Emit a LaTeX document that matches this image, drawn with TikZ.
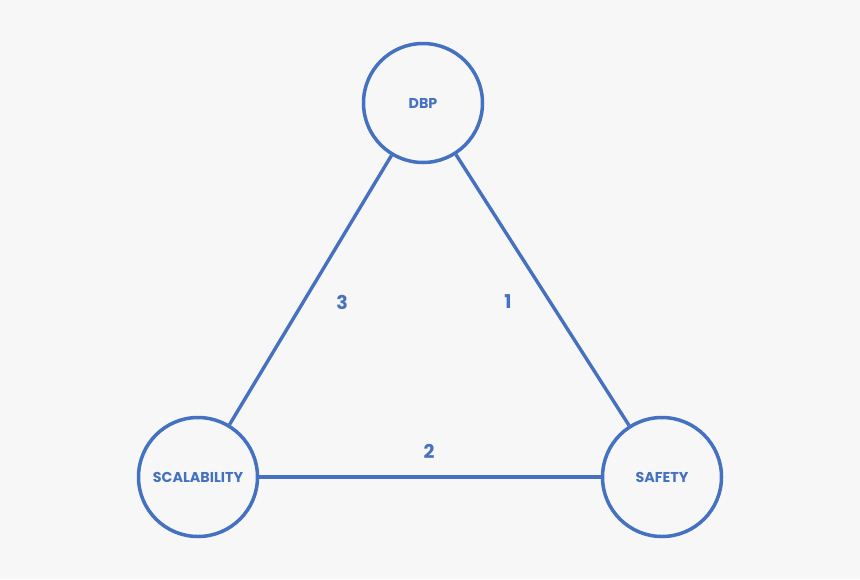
\documentclass[tikz,border=0pt]{standalone}
\usepackage{fontspec}
\setmainfont{Poppins}
\definecolor{bg}{HTML}{F7F7F7}
\definecolor{blu}{HTML}{4472C0}
\begin{document}
\begin{tikzpicture}[x=1pt,y=-1pt,
  circ/.style={circle,draw=blu,line width=3.5pt,minimum size=119pt,inner sep=0pt,text=blu,font=\fontsize{14.3}{16}\selectfont\bfseries},
  conn/.style={draw=blu,line width=3.4pt},
  num/.style={text=blu,font=\fontsize{19}{21}\selectfont\bfseries}]
\fill[bg] (0,0) rectangle (860,579);
\useasboundingbox (0,0) rectangle (860,579);
\node[circ] (dbp) at (423,103) {DBP};
\node[circ] (sca) at (198,477) {SCALABILITY};
\node[circ] (saf) at (662,477) {SAFETY};
\draw[conn] (dbp) -- (sca);
\draw[conn] (dbp) -- (saf);
\draw[conn] (sca) -- (saf);
\node[num] (n3) at (342,302) {3};
\node[num] (n1) at (508,302) {1};
\node[num] (n2) at (429,451) {2};
\end{tikzpicture}
\end{document}
